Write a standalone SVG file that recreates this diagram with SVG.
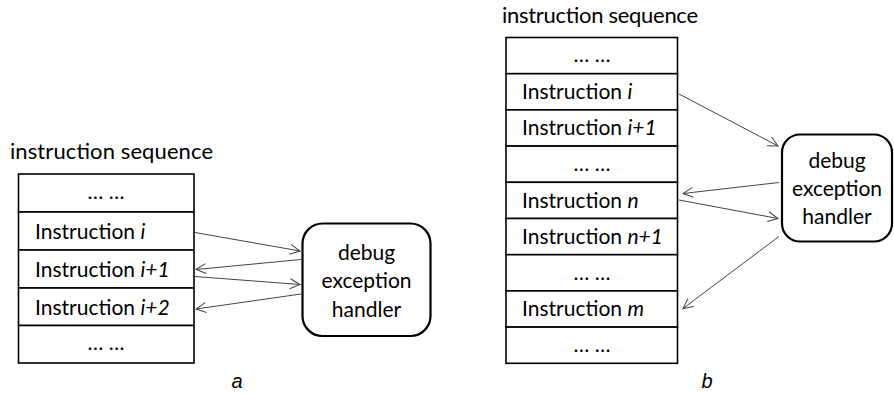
<svg xmlns="http://www.w3.org/2000/svg" width="894" height="394" viewBox="0 0 894 394">
  <style>
    .t { font-family: Lato, "Open Sans", "Liberation Sans", sans-serif; font-size: 21px; fill: #000; }
    .h { font-size: 22px; }
    .c { text-anchor: middle; }
    .it { font-style: italic; }
    .lbl { font-family: "Liberation Sans", Arial, sans-serif; font-size: 20px; font-style: italic; text-anchor: middle; fill: #000; }
    .cell { fill: #fff; stroke: #000; stroke-width: 1.6; }
    .box { fill: #fff; stroke: #000; stroke-width: 2.2; }
    .arr { stroke: #444; stroke-width: 1; fill: none; marker-end: url(#head); }
  </style>
  <defs>
    <marker id="head" markerUnits="userSpaceOnUse" markerWidth="14" markerHeight="14" refX="11" refY="6" orient="auto">
      <path d="M1,1 L11,6 L1,11" fill="none" stroke="#444" stroke-width="1"/>
    </marker>
  </defs>
  <rect width="894" height="394" fill="#fff"/>

  <!-- panel a: instruction sequence -->
  <g id="seq-a">
    <text class="t h" x="10" y="159" textLength="203" lengthAdjust="spacing">instruction sequence</text>
    <rect class="cell" x="18.5" y="174" width="175.5" height="38"/>
    <rect class="cell" x="18.5" y="212" width="175.5" height="38"/>
    <rect class="cell" x="18.5" y="250" width="175.5" height="38"/>
    <rect class="cell" x="18.5" y="288" width="175.5" height="37.5"/>
    <rect class="cell" x="18.5" y="325.5" width="175.5" height="37.5"/>
    <text class="t c" x="106" y="199">… …</text>
    <text class="t" x="35" y="239">Instruction <tspan class="it">i</tspan></text>
    <text class="t" x="35" y="277">Instruction <tspan class="it">i+1</tspan></text>
    <text class="t" x="35" y="315">Instruction <tspan class="it">i+2</tspan></text>
    <text class="t c" x="106" y="350">… …</text>
  </g>

  <g id="handler-a">
    <rect class="box" x="302.5" y="223.5" width="128" height="112.5" rx="20" ry="20"/>
    <text class="t c" x="366.5" y="260">debug</text>
    <text class="t c" x="366.5" y="288">exception</text>
    <text class="t c" x="366.5" y="317">handler</text>
  </g>

  <!-- panel b: instruction sequence -->
  <g id="seq-b">
    <text class="t h" x="502" y="23" textLength="196" lengthAdjust="spacing">instruction sequence</text>
    <rect class="cell" x="506" y="37.5" width="171.5" height="36.2"/>
    <rect class="cell" x="506" y="73.7" width="171.5" height="36.2"/>
    <rect class="cell" x="506" y="109.9" width="171.5" height="36.2"/>
    <rect class="cell" x="506" y="146.1" width="171.5" height="36.2"/>
    <rect class="cell" x="506" y="182.3" width="171.5" height="36.2"/>
    <rect class="cell" x="506" y="218.5" width="171.5" height="36.2"/>
    <rect class="cell" x="506" y="254.7" width="171.5" height="36.2"/>
    <rect class="cell" x="506" y="290.9" width="171.5" height="36.2"/>
    <rect class="cell" x="506" y="327.1" width="171.5" height="36.2"/>
    <text class="t c" x="592" y="62">… …</text>
    <text class="t" x="522" y="99">Instruction <tspan class="it">i</tspan></text>
    <text class="t" x="522" y="135">Instruction <tspan class="it">i+1</tspan></text>
    <text class="t c" x="592" y="171">… …</text>
    <text class="t" x="522" y="208">Instruction <tspan class="it">n</tspan></text>
    <text class="t" x="522" y="244">Instruction <tspan class="it">n+1</tspan></text>
    <text class="t c" x="592" y="280">… …</text>
    <text class="t" x="522" y="316">Instruction <tspan class="it">m</tspan></text>
    <text class="t c" x="592" y="352">… …</text>
  </g>

  <g id="handler-b">
    <rect class="box" x="782" y="134.5" width="110" height="107" rx="18" ry="18"/>
    <text class="t c" x="837" y="168">debug</text>
    <text class="t c" x="837" y="196">exception</text>
    <text class="t c" x="837" y="224">handler</text>
  </g>

  <!-- connectors -->
  <g id="connectors">
    <line class="arr" x1="195" y1="232.5" x2="300" y2="251"/>
    <line class="arr" x1="301" y1="259.5" x2="196" y2="269.5"/>
    <line class="arr" x1="195" y1="276.5" x2="300" y2="284.5"/>
    <line class="arr" x1="301" y1="294" x2="196" y2="309"/>
    <line class="arr" x1="679" y1="94" x2="778" y2="146"/>
    <line class="arr" x1="779" y1="182.5" x2="683" y2="193.5"/>
    <line class="arr" x1="679" y1="200" x2="778" y2="218.5"/>
    <line class="arr" x1="779" y1="236.5" x2="683" y2="308.5"/>
  </g>

  <!-- panel labels -->
  <text class="lbl" x="237" y="388">a</text>
  <text class="lbl" x="707" y="388">b</text>
</svg>
